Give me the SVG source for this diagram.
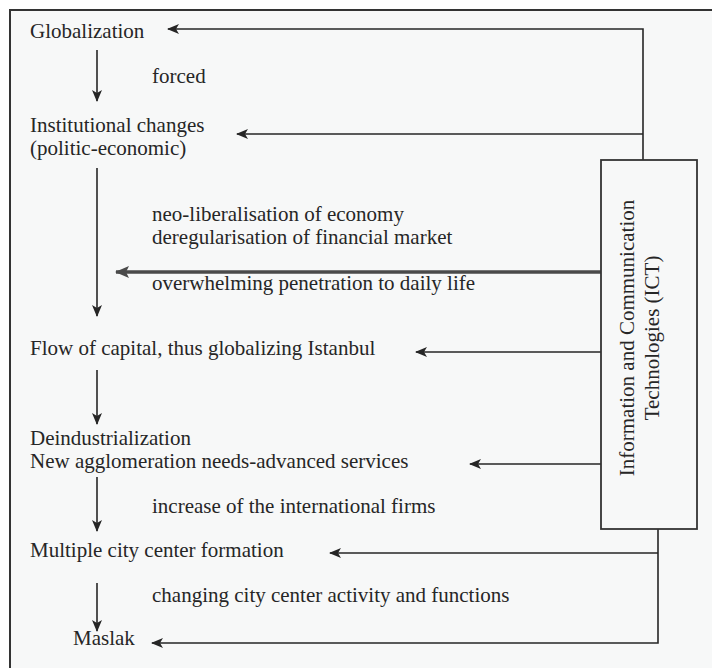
<svg xmlns="http://www.w3.org/2000/svg" width="712" height="668" viewBox="0 0 712 668" font-family="'Liberation Serif', 'DejaVu Serif', serif">
<style>
text{font-size:21px;fill:#262626}
.ln{stroke:#262626;stroke-width:1.6;fill:none}
.thick{stroke:#4a4a4a;stroke-width:3.5;fill:none}
</style>
<defs>
<marker id="ah" markerUnits="userSpaceOnUse" markerWidth="12" markerHeight="10" refX="11" refY="5" orient="auto">
<path d="M0,0 L12,5 L0,10 L3,5 Z" fill="#262626"/>
</marker>
<marker id="ahg" markerUnits="userSpaceOnUse" markerWidth="14" markerHeight="12" refX="13" refY="6" orient="auto">
<path d="M0,0 L14,6 L0,12 L3,6 Z" fill="#4a4a4a"/>
</marker>
</defs>
<rect x="0" y="0" width="712" height="668" fill="#ffffff"/>
<rect x="10" y="10" width="704" height="662" fill="#f7f8f8" stroke="#333" stroke-width="2"/>

<g id="connectors">
<line class="ln" x1="97" y1="50" x2="97" y2="101" marker-end="url(#ah)"/>
<line class="ln" x1="97" y1="168" x2="97" y2="316" marker-end="url(#ah)"/>
<line class="ln" x1="97" y1="370" x2="97" y2="424" marker-end="url(#ah)"/>
<line class="ln" x1="97" y1="477" x2="97" y2="531" marker-end="url(#ah)"/>
<line class="ln" x1="97" y1="583" x2="97" y2="631" marker-end="url(#ah)"/>
<polyline class="ln" points="643,160 643,29 168,29" marker-end="url(#ah)"/>
<line class="ln" x1="643" y1="134" x2="237" y2="134" marker-end="url(#ah)"/>
<line class="thick" x1="601" y1="272" x2="116" y2="272" marker-end="url(#ahg)"/>
<line class="ln" x1="601" y1="352" x2="416" y2="352" marker-end="url(#ah)"/>
<line class="ln" x1="601" y1="464" x2="470" y2="464" marker-end="url(#ah)"/>
<polyline class="ln" points="658,529 658,643 152,643" marker-end="url(#ah)"/>
<line class="ln" x1="658" y1="553" x2="330" y2="553" marker-end="url(#ah)"/>
</g>

<g id="labels">
<text x="152" y="83">forced</text>
<text x="152" y="221">neo-liberalisation of economy</text>
<text x="152" y="244">deregularisation of financial market</text>
<text x="152" y="290">overwhelming penetration to daily life</text>
<text x="152" y="513">increase of the international firms</text>
<text x="152" y="602">changing city center activity and functions</text>
</g>

<g id="globalization"><text x="30" y="38">Globalization</text></g>
<g id="institutional"><text x="30" y="132">Institutional changes</text><text x="30" y="155">(politic-economic)</text></g>
<g id="flow"><text x="30" y="355">Flow of capital, thus globalizing Istanbul</text></g>
<g id="deindustrialization"><text x="30" y="445">Deindustrialization</text><text x="30" y="468">New agglomeration needs-advanced services</text></g>
<g id="multiple"><text x="30" y="557">Multiple city center formation</text></g>
<g id="maslak"><text x="73" y="645">Maslak</text></g>

<g id="ict">
<rect x="601" y="160" width="96" height="369" fill="#f7f8f8" stroke="#333" stroke-width="1.8"/>
<text transform="translate(634,338) rotate(-90)" text-anchor="middle">Information and Communication</text>
<text transform="translate(659,338) rotate(-90)" text-anchor="middle">Technologies (ICT)</text>
</g>
</svg>
